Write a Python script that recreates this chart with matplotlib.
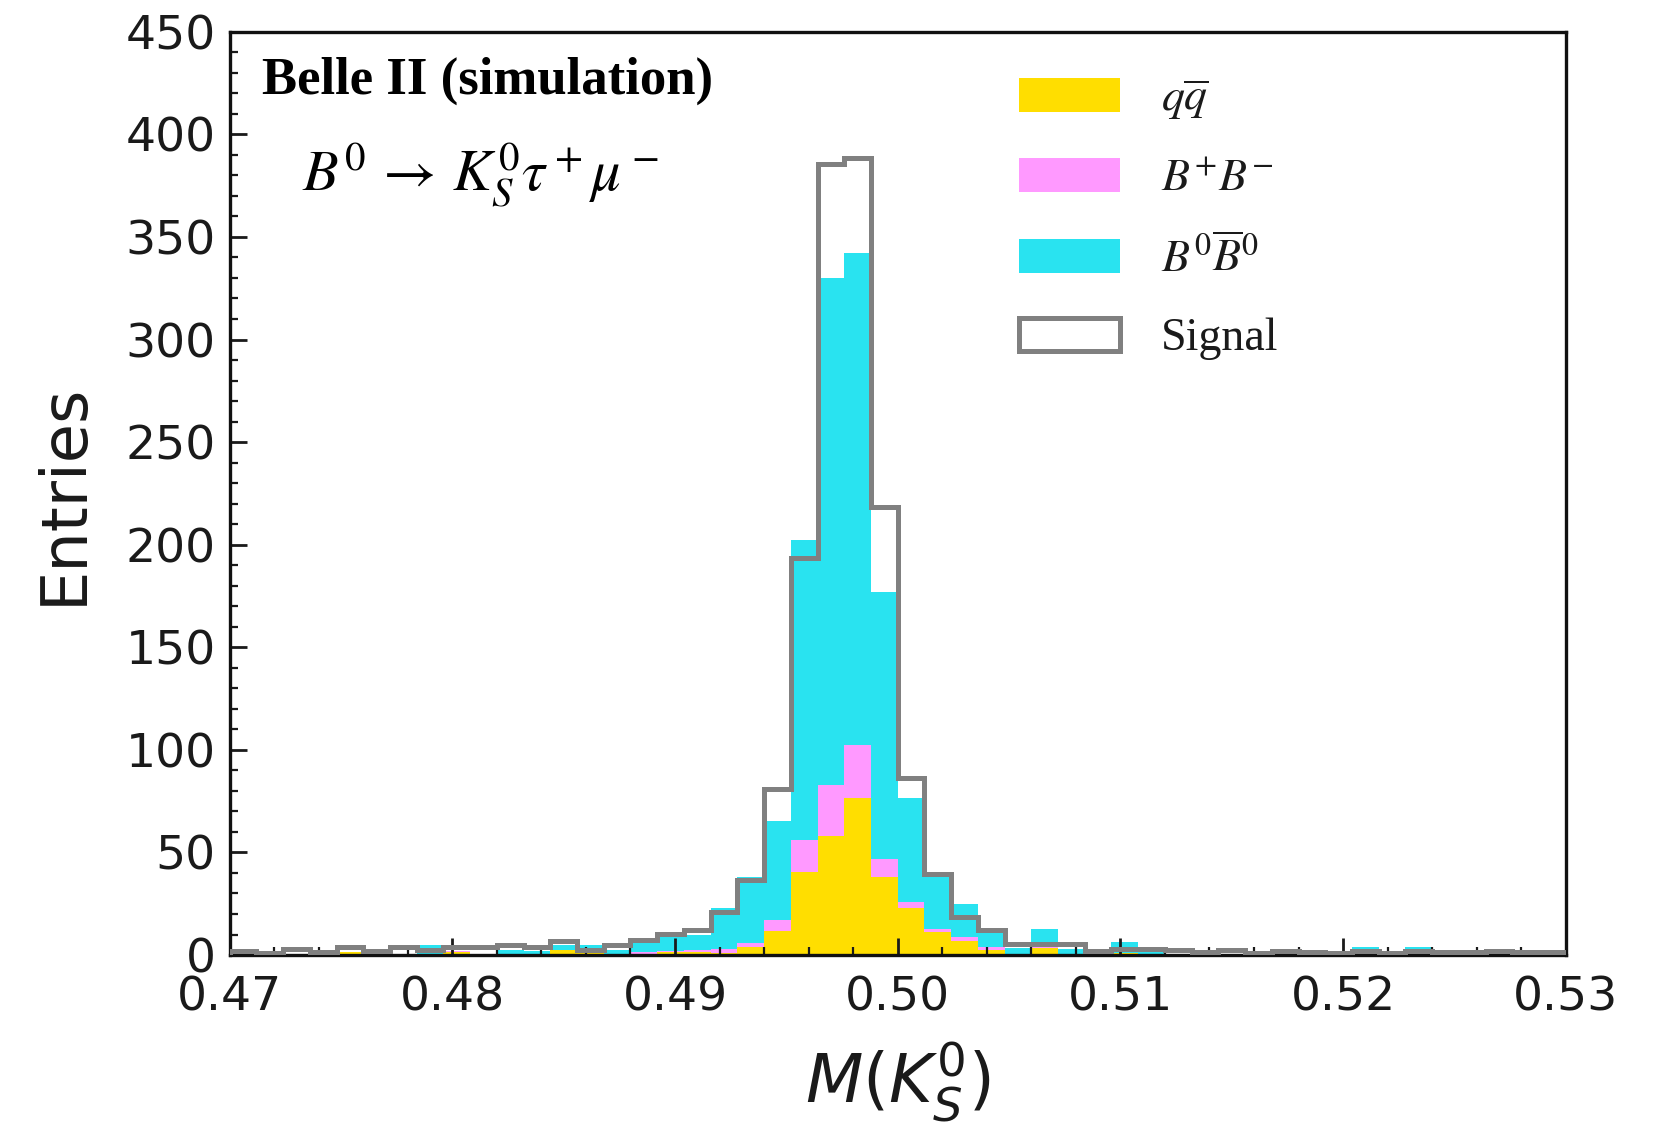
import numpy as np
import matplotlib
matplotlib.use("Agg")
import matplotlib.pyplot as plt
from matplotlib.patches import Patch
from matplotlib.font_manager import FontProperties
from matplotlib.ticker import MultipleLocator

# ---- data (50 bins, 0.47 - 0.53) ----
x_min, x_max, n_bins = 0.47, 0.53, 50
edges = np.linspace(x_min, x_max, n_bins + 1)
centers = 0.5 * (edges[:-1] + edges[1:])

# stacked background components (per-bin counts)
qq = [0, 0, 0, 0, 1.3, 0, 0, 0, 1.6, 0,
      0, 0, 2.6, 1.0, 0, 0.5, 1.6, 1.6, 0.8, 4.0,
      11.5, 40.5, 58, 76.5, 38, 23, 11, 7, 2.5, 0,
      3.5, 0, 0, 1.0, 0, 0, 0, 0, 0, 0,
      0, 0, 0, 0, 0, 0, 0, 0, 0, 0]
bpbm = [0, 0, 0, 0, 0, 0, 0, 0, 0.5, 0,
        0, 0, 0, 0.3, 0, 0.8, 0.4, 0.8, 2.0, 2.0,
        5.5, 15.5, 25, 26, 9, 3, 1.5, 2, 1.3, 0,
        0.2, 0, 0, 0, 0, 0, 0, 0, 0, 0,
        0, 0, 0, 0, 0, 0, 0, 0, 0, 0]
b0b0 = [0, 0, 0, 0, 0, 2.6, 0, 5.0, 0, 0,
        2.4, 2.1, 2.4, 3.7, 2.4, 7.0, 6.8, 7.5, 19.9, 32,
        48.5, 146.5, 247, 239.5, 130, 50.5, 26, 15.8, 7.0, 3.3,
        9.1, 2.8, 0, 5.3, 2.5, 0, 1.6, 0, 0, 0,
        0, 0, 3.7, 0, 3.7, 1.6, 0, 0, 1.5, 0]
signal = [2.1, 1.0, 2.9, 1.3, 3.7, 2.1, 3.7, 2.6, 4.1, 4.1,
          4.9, 3.7, 7.0, 2.4, 5.0, 7.3, 10.2, 12.2, 20.8, 36.5,
          81, 193.6, 385.5, 388.5, 218.5, 86.5, 39.5, 18.3, 12.2, 5.5,
          5.5, 5.5, 2.2, 3.0, 2.8, 2.5, 1.3, 2.4, 1.2, 2.1,
          1.5, 1.0, 2.1, 1.2, 2.1, 1.3, 1.3, 2.1, 1.3, 1.3]

labels = [r"$q\overline{q}$", r"$B^{+}B^{-}$", r"$B^{0}\overline{B}^{0}$", "Signal"]
colors = ["#FFDE00", "#FF99FF", "#29E3F0"]
sig_color = "#808080"

fig = plt.figure(figsize=(16.8, 11.22), dpi=100)
ax = fig.add_axes([0.1367, 0.1488, 0.7953, 0.8229])

ax.hist([centers, centers, centers], bins=edges,
        weights=[qq, bpbm, b0b0], stacked=True, histtype="stepfilled",
        color=colors, linewidth=0, zorder=1)
ax.hist(centers, bins=edges, weights=signal, histtype="step",
        color=sig_color, linewidth=3.6, zorder=3)

ax.set_xlim(x_min, x_max)
ax.set_ylim(0, 450)
ax.xaxis.set_major_locator(MultipleLocator(0.01))
ax.xaxis.set_minor_locator(MultipleLocator(0.002))
ax.yaxis.set_major_locator(MultipleLocator(50))
ax.yaxis.set_minor_locator(MultipleLocator(10))
ax.xaxis.set_major_formatter(matplotlib.ticker.FormatStrFormatter("%.2f"))
ax.tick_params(which="both", direction="in", top=False, right=False,
               labelsize=34, colors="#1a1a1a", pad=10)
ax.tick_params(axis="x", which="both", pad=15)
ax.tick_params(which="major", length=12.5, width=2.0)
ax.tick_params(which="minor", length=6, width=1.6)
for s in ax.spines.values():
    s.set_linewidth(2.4)
    s.set_color("#111111")

ax.set_ylabel("Entries", fontsize=46, color="#1a1a1a", labelpad=22)
ax.set_xlabel(r"$M(K_S^0)$", fontsize=48, color="#1a1a1a", labelpad=13)

ax.text(0.0242, 0.9325, "Belle II (simulation)", transform=ax.transAxes,
        family="Liberation Serif", weight="bold", fontsize=38,
        va="baseline", ha="left", color="black")
ax.text(0.0542, 0.8275, r"$B^0 \,\rightarrow\, K_S^0\tau^+\mu^-$", transform=ax.transAxes,
        fontsize=42, math_fontfamily="stix", va="baseline", ha="left",
        color="black")

handles = [Patch(facecolor=colors[0], edgecolor="none"),
           Patch(facecolor=colors[1], edgecolor="none"),
           Patch(facecolor=colors[2], edgecolor="none"),
           Patch(facecolor="white", edgecolor=sig_color, linewidth=3.6)]
prop = FontProperties(family="Liberation Serif", size=33, math_fontfamily="stix")
leg = ax.legend(handles, labels, prop=prop, loc="upper left",
                bbox_to_anchor=(0.5907, 0.95), frameon=False,
                handlelength=2.2, handleheight=0.75, labelspacing=0.78,
                handletextpad=0.9, borderpad=0, borderaxespad=0)
for t in leg.get_texts():
    t.set_color("#1a1a1a")

fig.savefig("out.png", dpi=100)
